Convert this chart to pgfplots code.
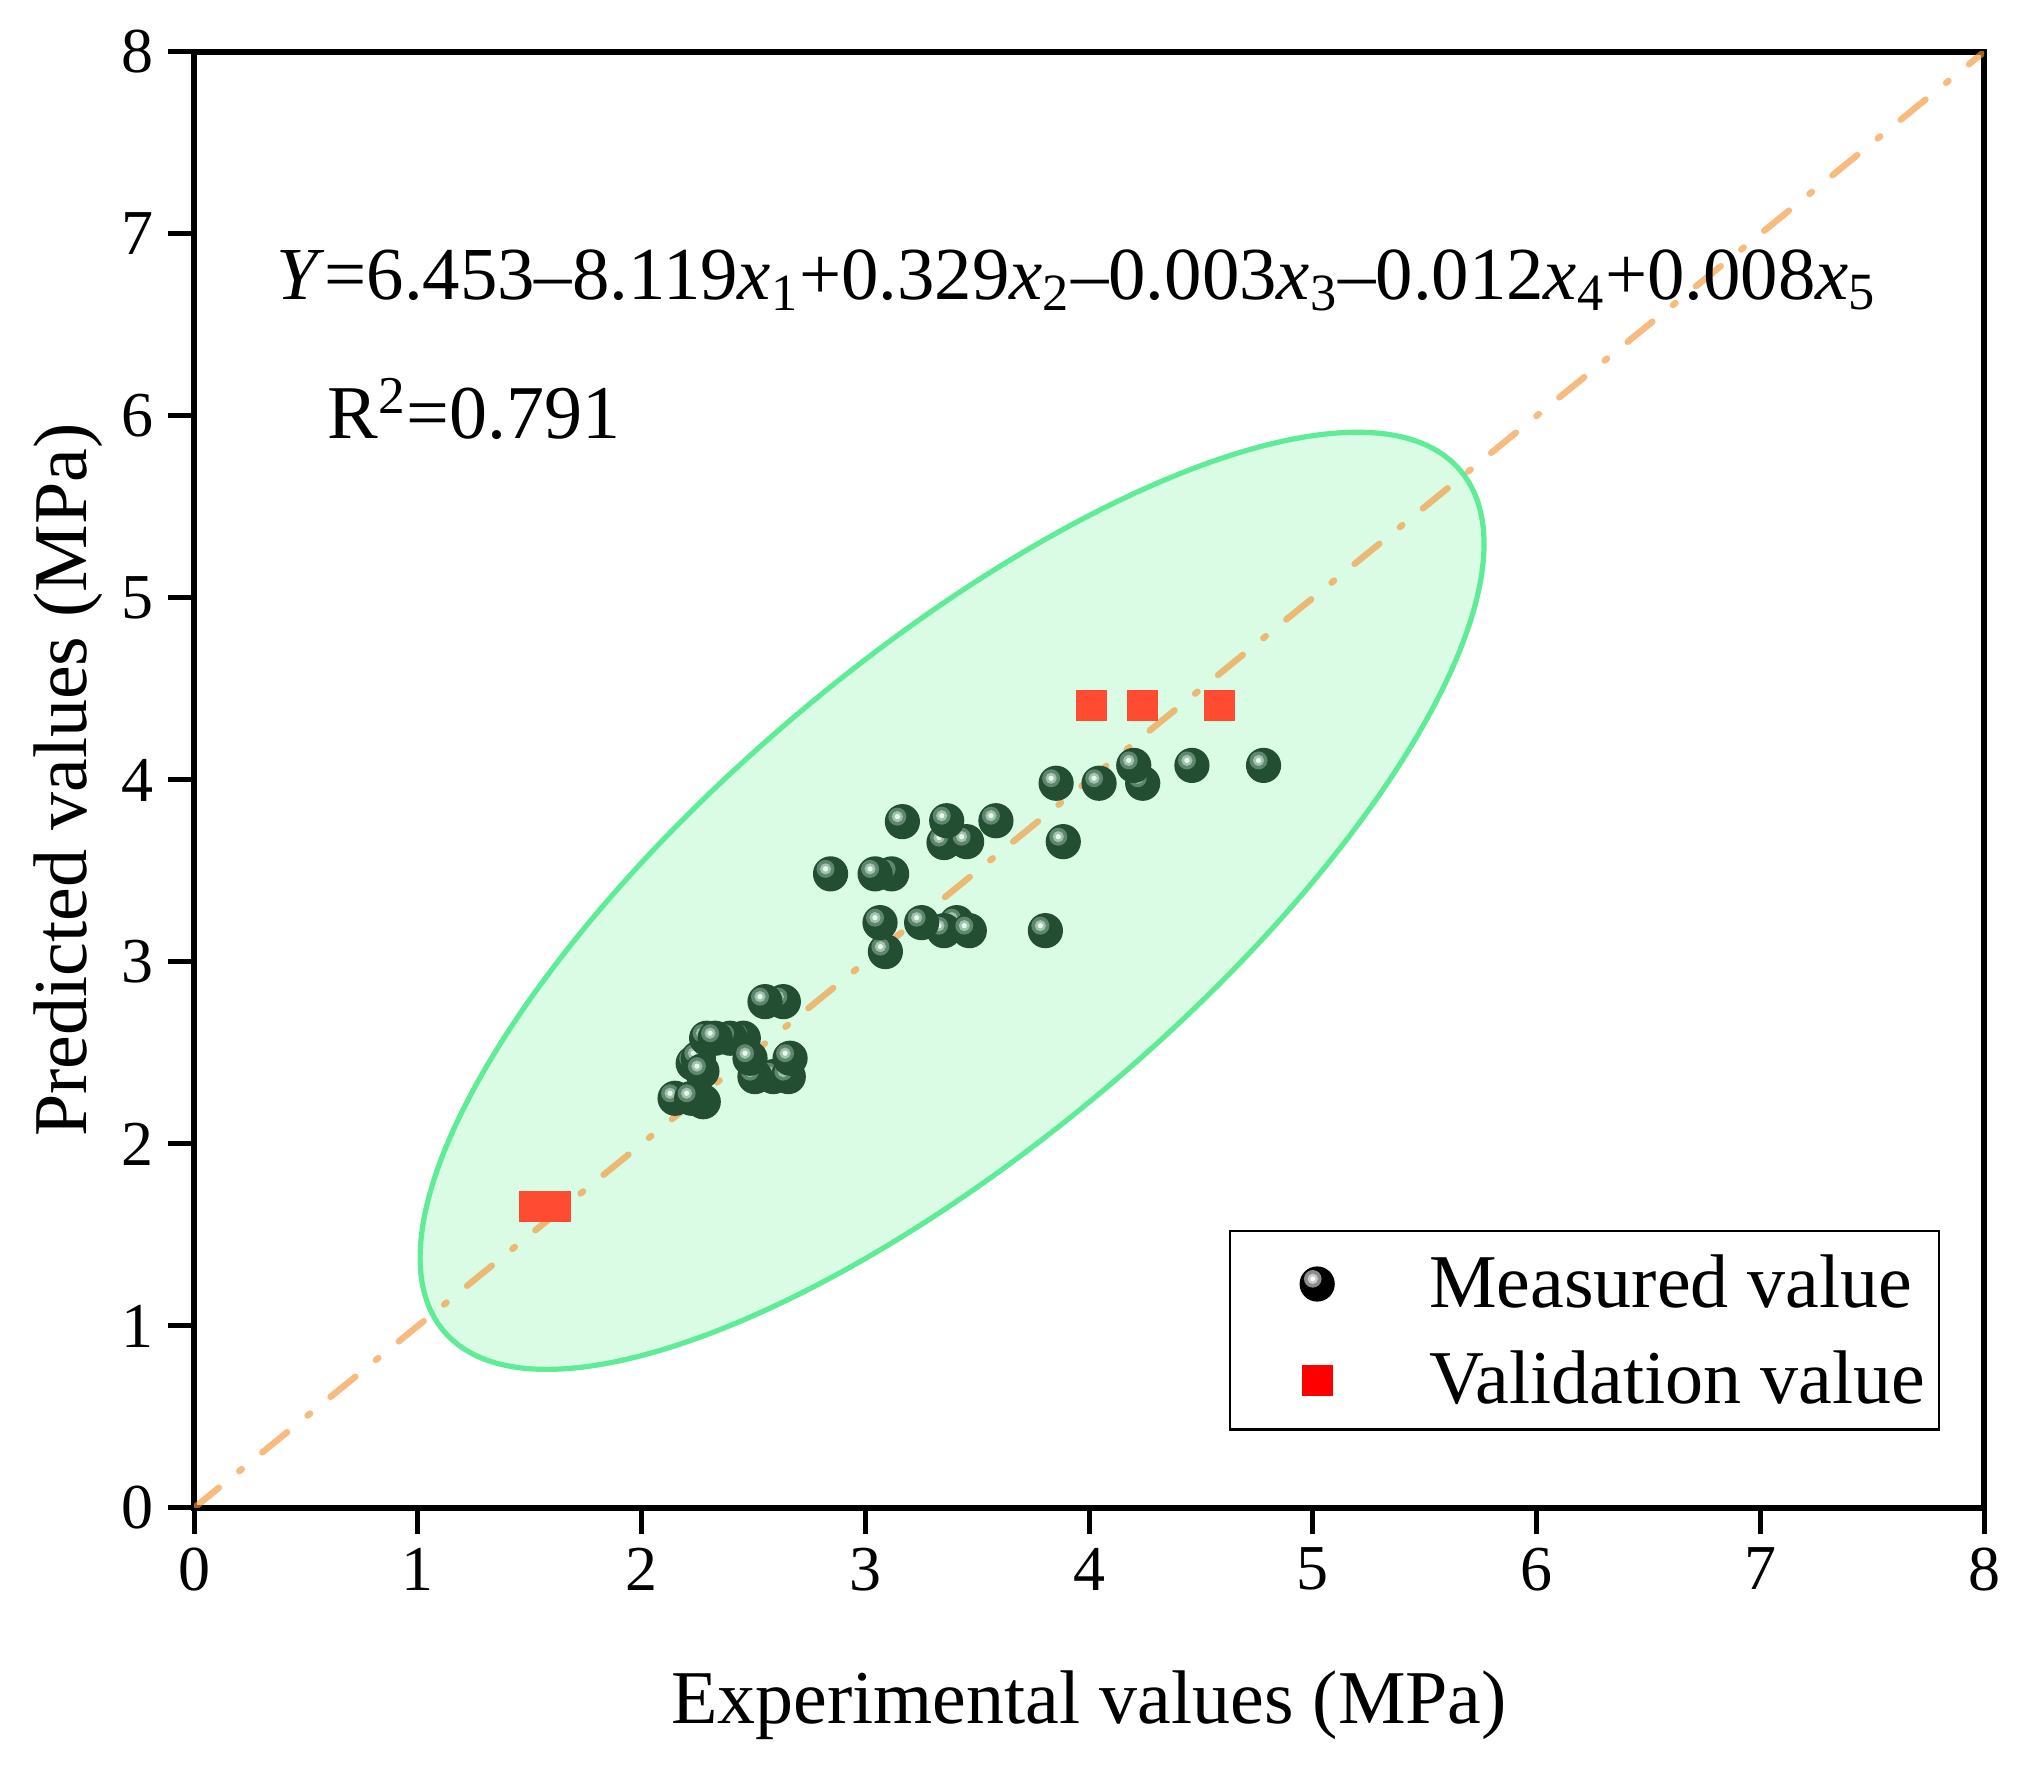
\documentclass[border=0pt]{standalone}
\usepackage{fontspec}
\setmainfont{Liberation Serif}
\usepackage{pgfplots}
\pgfplotsset{compat=1.18}
\definecolor{ballgreen}{RGB}{35,78,50}
\definecolor{ringA}{RGB}{95,135,110}
\definecolor{ringB}{RGB}{160,195,175}
\definecolor{ringC}{RGB}{232,246,236}
\definecolor{valred}{RGB}{255,75,50}
\definecolor{ellfill}{RGB}{218,252,229}
\definecolor{ellline}{RGB}{95,236,150}
\definecolor{dashor}{RGB}{243,150,60}
\pgfdeclareplotmark{greenball}{%
  \pgfsetfillcolor{ballgreen}\pgfpathcircle{\pgfpointorigin}{4.4pt}\pgfusepathqfill
  \pgfsetfillcolor{ringA}\pgfpathcircle{\pgfpoint{-1.25pt}{1.25pt}}{2.25pt}\pgfusepathqfill
  \pgfsetfillcolor{ringB}\pgfpathcircle{\pgfpoint{-1.25pt}{1.25pt}}{1.4pt}\pgfusepathqfill
  \pgfsetfillcolor{ringC}\pgfpathcircle{\pgfpoint{-1.25pt}{1.25pt}}{0.67pt}\pgfusepathqfill}
\pgfdeclareplotmark{blackball}{%
  \pgfsetfillcolor{black}\pgfpathcircle{\pgfpointorigin}{4.4pt}\pgfusepathqfill
  \pgfsetfillcolor{black!45}\pgfpathcircle{\pgfpoint{-1.1pt}{1.3pt}}{2.2pt}\pgfusepathqfill
  \pgfsetfillcolor{black!20}\pgfpathcircle{\pgfpoint{-1.1pt}{1.3pt}}{1.3pt}\pgfusepathqfill
  \pgfsetfillcolor{white}\pgfpathcircle{\pgfpoint{-1.1pt}{1.3pt}}{0.6pt}\pgfusepathqfill}
\pgfdeclareplotmark{redsq}{%
  \pgfsetfillcolor{red}\pgfpathrectangle{\pgfpoint{-3.875pt}{-3.875pt}}{\pgfpoint{7.75pt}{7.75pt}}\pgfusepathqfill}
\pgfdeclareplotmark{valsq}{%
  \pgfsetfillcolor{valred}\pgfpathrectangle{\pgfpoint{-3.875pt}{-3.875pt}}{\pgfpoint{7.75pt}{7.75pt}}\pgfusepathqfill}
\begin{document}
\begin{tikzpicture}
\begin{axis}[
  scale only axis, width=447.5pt, height=364pt,
  xmin=0, xmax=8, ymin=0, ymax=8,
  xtick={0,...,8}, ytick={0,...,8},
  xtick pos=bottom, ytick pos=left,
  tick align=outside, major tick length=6.5pt,
  every tick/.style={black, line width=1.25pt},
  axis line style={line width=1.3pt},
  /pgf/number format/assume math mode=true,
  tick label style={font=\fontsize{16}{19}\selectfont},
  xlabel={Experimental values (MPa)},
  ylabel={Predicted values (MPa)},
  every axis x label/.style={at={(axis description cs:0.5,-0.1477)}, anchor=base, font=\fontsize{19}{23}\selectfont},
  every axis y label/.style={at={(axis description cs:-0.0603,0.5)}, anchor=base, rotate=90, font=\fontsize{19}{23}\selectfont},
  legend style={at={(axis description cs:0.5782,0.1909)}, anchor=north west,
    draw=black, line width=0.6pt, inner xsep=0pt, inner ysep=0.8pt,
    font=\fontsize{19}{23}\selectfont,
    nodes={inner xsep=3.5pt, inner ysep=0pt},
    column sep=0pt, row sep=0pt,
    /tikz/every odd column/.append style={column sep=20pt}},
  legend cell align=left,
  legend image code/.code={\path[draw=none, fill=none] (-21.75pt,-11.6pt) rectangle (4.5pt,12.4pt); \draw[#1] plot coordinates {(0pt,0pt)};},
]
\draw[fill=ellfill, draw=ellline, line width=1.3pt,
  rotate around={40.26:(axis cs:3.388,3.336)}]
  (axis cs:3.388,3.336) ellipse [x radius=166.5pt, y radius=60.6pt];

\addplot[only marks, mark=greenball, forget plot] coordinates {
(3.853,3.982) (4.045,3.982) (4.24,3.982) (4.20,4.08) (4.46,4.08) (4.78,4.08)
(3.352,3.656) (3.453,3.661) (3.166,3.771) (3.364,3.776) (3.584,3.776) (3.885,3.661)
(2.845,3.484) (3.118,3.484) (3.044,3.484)
(3.09,3.057) (3.066,3.216) (3.409,3.216) (3.352,3.172) (3.465,3.172) (3.252,3.216) (3.805,3.172)
(2.634,2.782) (2.552,2.782)
(2.276,2.232) (2.15,2.251) (2.224,2.251)
(2.231,2.443) (2.254,2.471) (2.27,2.40)
(2.455,2.581) (2.396,2.581) (2.291,2.581) (2.329,2.581)
(2.589,2.370) (2.656,2.370) (2.664,2.471) (2.507,2.370) (2.485,2.471)
};
\addplot[only marks, mark=valsq, forget plot] coordinates {
(1.523,1.658) (1.616,1.658) (4.01,4.408) (4.24,4.408) (4.585,4.408)
};
\addplot[dashor, opacity=0.65, line width=1.6pt, line cap=round,
  dash pattern=on 8pt off 6.6pt on 0.8pt off 6.6pt, forget plot] coordinates {(0,0) (8,8)};

\addlegendimage{only marks, mark=blackball}
\addlegendentry{Measured value}
\addlegendimage{only marks, mark=redsq}
\addlegendentry{Validation value}

\node[anchor=base west, font=\fontsize{18.7}{23}\selectfont, inner sep=0pt] at (axis cs:0.364,6.64)
  {\textit{Y}=6.453–8.119\textit{x}\textsubscript{1}+0.329\textit{x}\textsubscript{2}–0.003\textit{x}\textsubscript{3}–0.012\textit{x}\textsubscript{4}+0.008\textit{x}\textsubscript{5}};
\node[anchor=base west, font=\fontsize{19}{23}\selectfont, inner sep=0pt] at (axis cs:0.594,5.876)
  {R\textsuperscript{2}=0.791};
\end{axis}
\pgfresetboundingbox
\path[use as bounding box] ([shift={(-48.5pt,-64.25pt)}]current axis.south west) rectangle ([shift={(10pt,13pt)}]current axis.north east);
\end{tikzpicture}
\end{document}
